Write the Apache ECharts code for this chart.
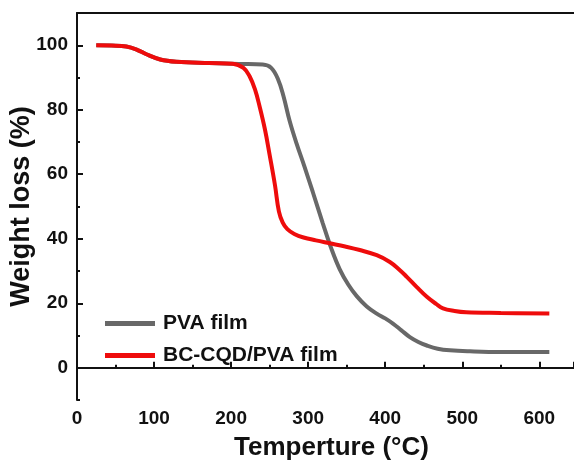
<!DOCTYPE html>
<html>
<head>
<meta charset="utf-8">
<script src="https://cdn.jsdelivr.net/npm/echarts@6/dist/echarts.min.js"></script>
<style>
  html, body { margin: 0; padding: 0; background: #fff; }
  #chart { width: 574px; height: 469px; }
</style>
</head>
<body>
<div id="chart"></div>
<script>
// PVA film
const pvaTemp = [25, 45, 64, 78, 90, 108, 129, 172, 210, 241, 252, 261, 268, 276, 285, 295, 306, 319, 330, 341, 352, 363, 376, 389, 400, 410, 421, 432, 443, 454, 468, 484, 510, 550, 613]
const pvaWeight = [100, 99.9, 99.6, 98.6, 97.2, 95.6, 94.9, 94.5, 94.2, 94.0, 93.0, 89.4, 84.2, 76.5, 69.5, 62.5, 54.5, 44.8, 37.0, 30.5, 25.8, 22.2, 19.0, 16.8, 15.3, 13.7, 11.6, 9.5, 8.0, 6.9, 5.9, 5.4, 5.1, 4.9, 4.9]

// BC-CQD/PVA film
const bcTemp = [25, 45, 64, 78, 90, 108, 129, 172, 202, 216, 224, 231, 237, 244, 250, 257, 262, 267, 273, 282, 294, 310, 328, 348, 367, 389, 406, 418, 428, 441, 454, 466, 475, 490, 505, 550, 613]
const bcWeight = [100, 99.9, 99.6, 98.6, 97.2, 95.6, 94.9, 94.5, 94.3, 93.0, 90.4, 86.3, 81.0, 73.8, 66.0, 56.5, 48.5, 45.0, 43.0, 41.5, 40.4, 39.5, 38.6, 37.6, 36.5, 34.9, 32.8, 30.5, 28.2, 25.0, 22.0, 19.8, 18.4, 17.6, 17.2, 17.0, 16.8]

const yMajor = [0, 20, 40, 60, 80, 100]
const seriesNames = ['PVA film', 'BC-CQD/PVA film']

const font = '"Liberation Sans", Arial, sans-serif'
const axisColor = '#111'

const chart = echarts.init(document.getElementById('chart'))

const pair = (xs, ys) => xs.map((x, i) => [x, ys[i]])

chart.setOption({
  animation: false,
  grid: { left: 77, right: 0, top: 13, bottom: 69, outerBoundsMode: 'none', containLabel: false },
  legend: {
    orient: 'vertical',
    left: 100,
    top: 308,
    icon: 'rect',
    itemWidth: 50,
    itemHeight: 5,
    itemGap: 11,
    textStyle: { fontFamily: font, fontWeight: 'bold', fontSize: 21, lineHeight: 21, color: '#111', padding: [0, 0, 0, 3] },
    data: seriesNames
  },
  xAxis: [
    {
      type: 'value', min: 0, max: 645, interval: 100,
      name: 'Temperture (°C)', nameLocation: 'middle', nameGap: 35, nameMoveOverlap: false,
      nameTextStyle: { fontFamily: font, fontWeight: 'bold', fontSize: 26, color: '#111', padding: [0, 0, 0, 12] },
      axisLine: { lineStyle: { color: axisColor, width: 2 } },
      axisTick: { inside: true, length: 6, lineStyle: { color: axisColor, width: 2 } },
      axisLabel: { margin: 9, fontFamily: font, fontWeight: 'bold', fontSize: 19, color: '#111',
        formatter: v => (v % 100 === 0 && v <= 600 ? v : '') },
      splitLine: { show: false }
    },
    {
      type: 'value', min: 0, max: 645, interval: 50, position: 'bottom',
      axisLine: { show: false },
      axisTick: { inside: true, length: 3, lineStyle: { color: axisColor, width: 2 } },
      axisLabel: { show: false },
      splitLine: { show: false }
    },
    {
      type: 'value', min: 0, max: 645, position: 'top',
      axisLine: { show: true, lineStyle: { color: axisColor, width: 2 } },
      axisTick: { show: false }, axisLabel: { show: false }, splitLine: { show: false }
    }
  ],
  yAxis: [
    {
      type: 'value', min: -10, max: 110,
      name: 'Weight loss (%)', nameLocation: 'middle', nameGap: 42, nameMoveOverlap: false,
      nameTextStyle: { fontFamily: font, fontWeight: 'bold', fontSize: 27, color: '#111' },
      axisLine: { show: true, lineStyle: { color: axisColor, width: 2 } },
      axisTick: { inside: true, length: 6, customValues: yMajor, lineStyle: { color: axisColor, width: 2 } },
      axisLabel: { margin: 9, customValues: yMajor, fontFamily: font, fontWeight: 'bold', fontSize: 19, color: '#111' },
      splitLine: { show: false }
    },
    {
      type: 'value', min: -10, max: 110, interval: 10, position: 'left',
      axisLine: { show: false },
      axisTick: { inside: true, length: 3, lineStyle: { color: axisColor, width: 2 } },
      axisLabel: { show: false },
      splitLine: { show: false }
    }
  ],
  series: [
    {
      name: seriesNames[0], type: 'line', smooth: 0.4, showSymbol: false,
      color: '#686868',
      lineStyle: { width: 4, color: '#686868' },
      data: pair(pvaTemp, pvaWeight)
    },
    {
      name: seriesNames[1], type: 'line', smooth: 0.4, showSymbol: false,
      color: '#ee0c0c',
      lineStyle: { width: 4, color: '#ee0c0c' },
      data: pair(bcTemp, bcWeight)
    }
  ]
})
</script>
</body>
</html>
